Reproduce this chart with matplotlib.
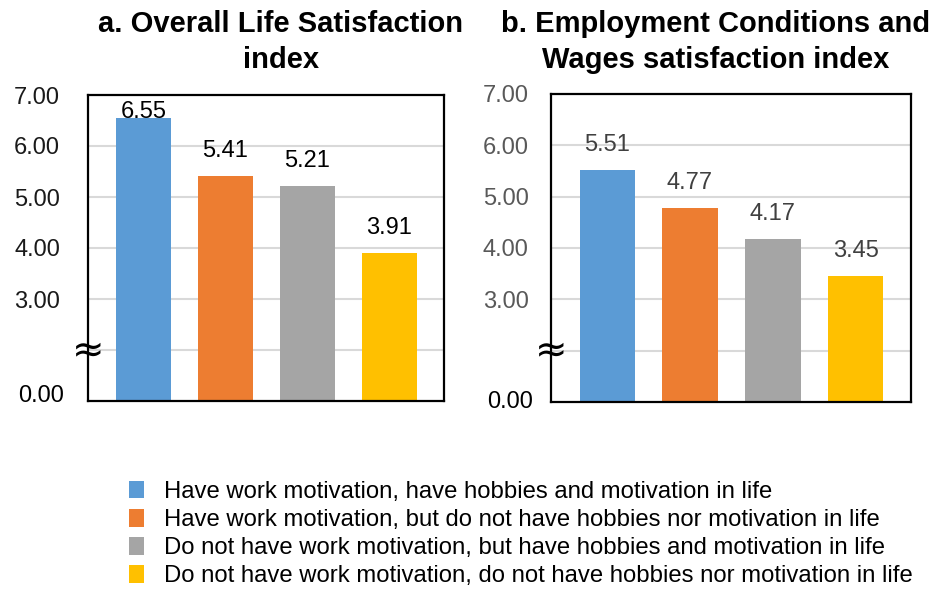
import matplotlib
matplotlib.use("Agg")
import matplotlib.pyplot as plt
from matplotlib.patches import Patch

plt.rcParams['font.family'] = ['Liberation Sans', 'DejaVu Sans']

categories = [
    "Have work motivation, have hobbies and motivation in life",
    "Have work motivation, but do not have hobbies nor motivation in life",
    "Do not have work motivation, but have hobbies and motivation in life",
    "Do not have work motivation, do not have hobbies nor motivation in life",
]
life_satisfaction = [6.55, 5.41, 5.21, 3.91]
employment_satisfaction = [5.51, 4.77, 4.17, 3.45]
colors = ["#5b9bd5", "#ed7d31", "#a5a5a5", "#ffc000"]
tick_values = [3, 4, 5, 6, 7]
tick_labels = ["3.00", "4.00", "5.00", "6.00", "7.00"]
titles = ["a. Overall Life Satisfaction\nindex",
          "b. Employment Conditions and\nWages satisfaction index"]

W, H = 933, 592
fig = plt.figure(figsize=(W / 100, H / 100), dpi=100)

def add_ax(l, t, r, b):
    return fig.add_axes([l / W, 1 - b / H, (r - l) / W, (b - t) / H])

axes = [add_ax(88, 95, 444, 401), add_ax(551, 94, 911, 402)]
datas = [life_satisfaction, employment_satisfaction]
label_colors = ["#000000", "#404040"]
tick_colors = ["#1a1a1a", "#595959"]
tick_pads = [20, 16]
zero_x = [-0.067, -0.05]
zero_y = [1.1, 1.0]
title_x = [281, 716]

for i, ax in enumerate(axes):
    vals = datas[i]
    x = range(len(vals))
    ax.bar(x, [v - 1 for v in vals], bottom=1, width=0.67, color=colors, zorder=3)
    ax.set_xlim(-0.68, 3.67)
    ax.set_ylim(1, 7)
    ax.set_xticks([])
    ax.set_yticks([2] + tick_values)
    ax.set_yticklabels([""] + tick_labels, fontsize=17, color=tick_colors[i])
    ax.tick_params(axis='y', length=0, pad=tick_pads[i])
    for g in [2, 3, 4, 5, 6]:
        ax.axhline(g, color="#d9d9d9", lw=1.5, zorder=1)
    for s in ax.spines.values():
        s.set_color("black")
        s.set_linewidth(1.6)
        s.set_zorder(4)
    for xi, v in zip(x, vals):
        ax.text(xi, min(v + 0.49, 6.66), f"{v:.2f}", ha="center", va="center",
                fontsize=17, color=label_colors[i], zorder=5)
    # bottom label and axis break
    ax.text(zero_x[i], zero_y[i], "0.00", transform=ax.get_yaxis_transform(),
            ha="right", va="center", fontsize=17, color="black")
    ax.text(0.0, 2.0, "≈", transform=ax.get_yaxis_transform(), ha="center", va="center",
            fontsize=28, color="black", family="DejaVu Sans", zorder=6)
    fig.text(title_x[i] / W, 1 - 42 / H, titles[i], ha="center", va="center",
             fontsize=21, fontweight="bold", linespacing=1.35)

handles = [Patch(facecolor=c, edgecolor="none") for c in colors]
fig.legend(handles, categories, loc="upper left", bbox_to_anchor=(129 / W, 1 - 481 / H),
           frameon=False, fontsize=17.2, handlelength=0.62, handleheight=0.75,
           handletextpad=0.85, labelspacing=0.25, borderpad=0, borderaxespad=0)

fig.savefig("out.png", dpi=100)
